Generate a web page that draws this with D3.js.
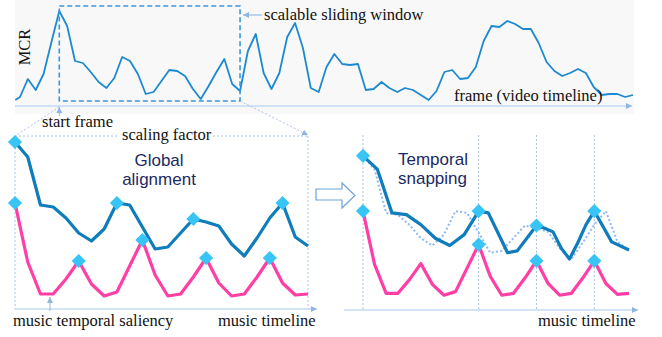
<!DOCTYPE html>
<html><head><meta charset="utf-8">
<script src="https://cdn.jsdelivr.net/npm/d3@7/dist/d3.min.js"></script>
<style>body{margin:0;background:#fff}svg{display:block}
.ser{font-family:"Liberation Serif","Times New Roman",Times,serif;font-size:16.5px;fill:#111}
.san{font-family:"Liberation Sans",Arial,Helvetica,sans-serif;font-size:17px;fill:#1b2a63}
</style>
</head><body><svg id="c" width="662" height="337"></svg>
<script>
// ---- data ----
const mcrFrames = [-0.6].concat(d3.range(79));
const mcrValues = [6, 9,27,16,32,64,95,80,45,43,34, 24,18,28,49,45,32,12,14,25,36,
  35,30,17,7,20,34,47,22,15,55, 72,33,17,33,69,83,58,18,14,39,
  52,42,41,42,16,17,24,18,14,18, 16,11,6,15,34,36,27,28,39,65,
  80,79,85,82,77,77,63,44,35,30, 33,37,33,19,11,12,12,9,11];
const windowFrames = [5, 28];
const musicSteps = d3.range(24);
const videoMotion = [167,152,104,102,91,76,68,80,106,104,82,60,62,76,90,87,83,65,53,71,91,106,72,63];
const musicSaliency = [106,47,15,15,30,48,25,13,17,43,69,34,13,15,32,51,26,13,15,32,51,26,14,15];
const videoKeys = [0, 8, 14, 21];
const musicKeys = [0, 5, 10, 15, 20];
const snapTargets = [0, 10, 15, 20];

// ---- setup ----
const svg = d3.select("#c");
const axisCol = "#a6caec", thinCol = "#a9c4e8";
const defs = svg.append("defs");
defs.append("marker").attr("id","arr").attr("viewBox","0 0 6 6").attr("refX",6).attr("refY",3)
  .attr("markerWidth",6).attr("markerHeight",6).attr("markerUnits","userSpaceOnUse").attr("orient","auto")
  .append("path").attr("d","M0,0L6,3L0,6Z").attr("fill","#8fb5e3");

// ---- top panel ----
const xT = d3.scaleLinear().domain([0,78]).range([20,633]);
const yT = d3.scaleLinear().domain([0,100]).range([106,6]);
svg.append("rect").attr("x",15).attr("y",0).attr("width",619).attr("height",114).attr("fill","#f8f8f8");
svg.append("line").attr("x1",15).attr("x2",632).attr("y1",yT(0)).attr("y2",yT(0))
  .attr("stroke",axisCol).attr("stroke-width",1.2).attr("marker-end","url(#arr)");
svg.append("path").datum(mcrFrames.map((f,i)=>[f,mcrValues[i]]))
  .attr("d", d3.line().x(d=>xT(d[0])).y(d=>yT(d[1])))
  .attr("fill","none").attr("stroke","#1d89cf").attr("stroke-width",1.8).attr("stroke-linejoin","round");
const wx0 = xT(windowFrames[0]), wx1 = xT(windowFrames[1]);
svg.append("rect").attr("x",wx0).attr("y",yT(100)).attr("width",wx1-wx0).attr("height",yT(5)-yT(100))
  .attr("fill","none").attr("stroke","#3a98d6").attr("stroke-width",1.6).attr("stroke-dasharray","5,3");
svg.append("line").attr("x1",262).attr("y1",15).attr("x2",wx1+3).attr("y2",15)
  .attr("stroke","#a8c8ec").attr("stroke-width",1.5).attr("marker-end","url(#arr)");
svg.append("text").attr("class","ser").attr("x",264).attr("y",20).text("scalable sliding window");
svg.append("text").attr("class","ser").attr("transform","translate(30,47) rotate(-90)").attr("text-anchor","middle").text("MCR");
svg.append("text").attr("class","ser").attr("x",454).attr("y",101).text("frame (video timeline)");

// ---- bottom-left panel ----
const xL = d3.scaleLinear().domain([0,23]).range([15,308]);
const yL = d3.scaleLinear().domain([0,100]).range([309,209]);
svg.append("line").attr("x1",wx0).attr("y1",107).attr("x2",15).attr("y2",136)
  .attr("stroke",thinCol).attr("stroke-width",1).attr("stroke-dasharray","2,2");
svg.append("line").attr("x1",wx1).attr("y1",yT(5)).attr("x2",308).attr("y2",135)
  .attr("stroke",thinCol).attr("stroke-width",1).attr("stroke-dasharray","2,2").attr("marker-end","url(#arr)");
svg.append("line").attr("x1",wx0).attr("y1",116).attr("x2",wx0).attr("y2",107)
  .attr("stroke","#8fb5e3").attr("stroke-width",1).attr("marker-end","url(#arr)");
svg.append("text").attr("class","ser").attr("x",42).attr("y",127).text("start frame");
[[15,118],[213,308]].forEach(s=>{
  svg.append("line").attr("x1",s[0]).attr("x2",s[1]).attr("y1",136).attr("y2",136)
    .attr("stroke",thinCol).attr("stroke-width",1).attr("stroke-dasharray","2,2");
});
svg.append("text").attr("class","ser").attr("x",122).attr("y",140).text("scaling factor");
[15,308].forEach(x=>svg.append("line").attr("x1",x).attr("x2",x).attr("y1",136).attr("y2",309)
  .attr("stroke",thinCol).attr("stroke-width",1).attr("stroke-dasharray","2,2"));
svg.append("line").attr("x1",15).attr("x2",317).attr("y1",309).attr("y2",309)
  .attr("stroke",axisCol).attr("stroke-width",1.2).attr("marker-end","url(#arr)");

const lineGen = (xs, ys) => d3.line().x(d=>xs(d[0])).y(d=>ys(d[1]));
const blueCol = "#0f7cbc", pinkCol = "#ff3ea6", diaCol = "#38c5f6";
const diamond = d3.symbol().type(d3.symbolSquare).size(100);
function drawDiamonds(pts){
  svg.append("g").selectAll("path").data(pts).join("path")
    .attr("d", diamond).attr("fill", diaCol)
    .attr("transform", d=>`translate(${d[0]},${d[1]}) rotate(45)`);
}
svg.append("path").datum(musicSteps.map(i=>[i,musicSaliency[i]])).attr("d",lineGen(xL,yL))
  .attr("fill","none").attr("stroke",pinkCol).attr("stroke-width",3.2).attr("stroke-linejoin","round");
svg.append("path").datum(musicSteps.map(i=>[i,videoMotion[i]])).attr("d",lineGen(xL,yL))
  .attr("fill","none").attr("stroke",blueCol).attr("stroke-width",3.2).attr("stroke-linejoin","round");
drawDiamonds(musicKeys.map(k=>[xL(k), yL(musicSaliency[k])]));
drawDiamonds(videoKeys.map(k=>[xL(k), yL(videoMotion[k])]));
svg.append("text").attr("class","san").attr("x",159).attr("y",166).attr("text-anchor","middle").text("Global");
svg.append("text").attr("class","san").attr("x",159).attr("y",185).attr("text-anchor","middle").text("alignment");
svg.append("line").attr("x1",50).attr("x2",50).attr("y1",311).attr("y2",297)
  .attr("stroke","#8fb5e3").attr("stroke-width",1).attr("marker-end","url(#arr)");
svg.append("text").attr("class","ser").attr("x",13).attr("y",326).text("music temporal saliency");
svg.append("text").attr("class","ser").attr("x",218).attr("y",326).text("music timeline");

// ---- hollow arrow ----
svg.append("path").attr("d","M316,189L342,189L342,183L355,195.5L342,208L342,200L316,200Z")
  .attr("fill","#fff").attr("stroke","#6fa3da").attr("stroke-width",1.2);

// ---- bottom-right panel ----
const xR = d3.scaleLinear().domain([0,23]).range([363,629]);
const yR = d3.scaleLinear().domain([0,100]).range([307,216.5]);
const warp = d3.scaleLinear().domain(videoKeys.concat([23])).range(snapTargets.concat([23]));
snapTargets.forEach(k=>svg.append("line").attr("x1",xR(k)).attr("x2",xR(k)).attr("y1",135).attr("y2",310)
  .attr("stroke",thinCol).attr("stroke-width",1).attr("stroke-dasharray","2,2"));
svg.append("line").attr("x1",344).attr("x2",638).attr("y1",310).attr("y2",310)
  .attr("stroke",axisCol).attr("stroke-width",1.2).attr("marker-end","url(#arr)");
svg.append("path").datum(musicSteps.map(i=>[i,musicSaliency[i]])).attr("d",lineGen(xR,yR))
  .attr("fill","none").attr("stroke",pinkCol).attr("stroke-width",3.2).attr("stroke-linejoin","round");
svg.append("path").datum(musicSteps.map(i=>[i,videoMotion[i]])).attr("d",lineGen(xR,yR))
  .attr("fill","none").attr("stroke","#8fb8f5").attr("stroke-width",2).attr("stroke-dasharray","2,2.2");
svg.append("path").datum(musicSteps.map(i=>[warp(i),videoMotion[i]])).attr("d",lineGen(xR,yR))
  .attr("fill","none").attr("stroke",blueCol).attr("stroke-width",3.2).attr("stroke-linejoin","round");
drawDiamonds(snapTargets.map(k=>[xR(k), yR(musicSaliency[k])]));
drawDiamonds(videoKeys.map(k=>[xR(warp(k)), yR(videoMotion[k])]));
svg.append("text").attr("class","san").attr("x",398).attr("y",165).text("Temporal");
svg.append("text").attr("class","san").attr("x",398).attr("y",184).text("snapping");
svg.append("text").attr("class","ser").attr("x",538).attr("y",326).text("music timeline");
</script></body></html>
